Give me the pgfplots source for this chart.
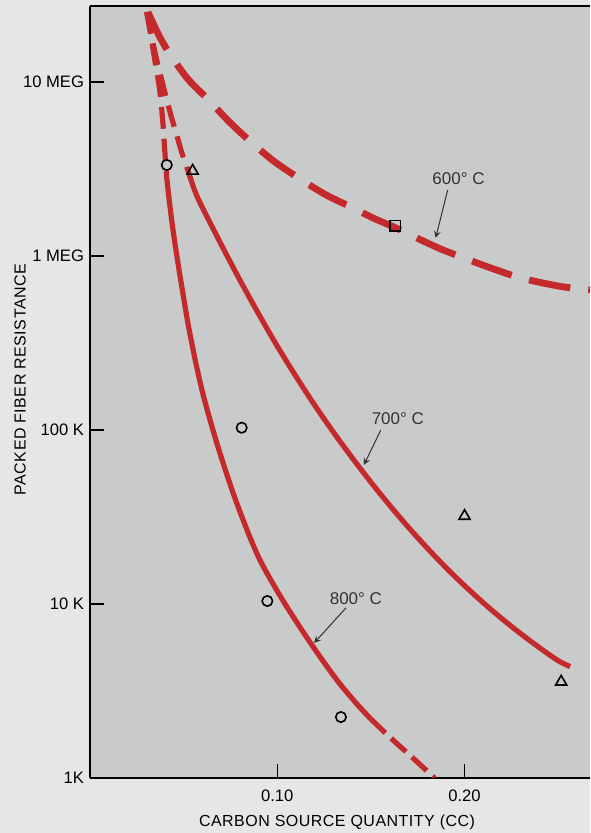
\documentclass[border=0pt]{standalone}
\usepackage{pgfplots}
\pgfplotsset{compat=1.18}
\usepackage{fontspec}
\setmainfont{Liberation Sans}
\usetikzlibrary{backgrounds,calc}

\definecolor{curvered}{HTML}{C42A2C}
\definecolor{plotgray}{HTML}{C9CBCB}
\definecolor{pagegray}{HTML}{E5E7E7}

\begin{document}
\begin{tikzpicture}
\begin{axis}[
    scale only axis,
    width=250pt, height=386pt,
    xmin=0, xmax=0.267,
    ymode=log, ymin=1e3, ymax=2.73e7,
    enlargelimits=false,
    axis x line*=bottom, axis y line*=left,
    axis line style={line width=0.8pt},
    axis background/.style={fill=plotgray},
    tick align=inside,
    major tick length=7pt,
    tick style={line width=0.7pt, black},
    yminorticks=false, xminorticks=false,
    xtick={0.1,0.2}, xticklabels={0.10,0.20},
    ytick={1e3,1e4,1e5,1e6,1e7},
    yticklabels={1K,10 K,100 K,1 MEG,10 MEG},
    tick label style={font=\fontsize{8.3}{9}\selectfont},
    every x tick label/.style={anchor=center, yshift=-9pt},
    every y tick label/.style={anchor=east, xshift=0.5pt},
    xlabel={\addfontfeatures{LetterSpace=3}CARBON SOURCE QUANTITY (CC)},
    ylabel={\addfontfeatures{LetterSpace=3}PACKED FIBER RESISTANCE},
    every axis x label/.style={at={(axis description cs:0.494,0)}, yshift=-22pt, anchor=center,
        font=\fontsize{8}{9}\selectfont},
    every axis y label/.style={at={(axis description cs:0,0.516)}, xshift=-35pt, anchor=center,
        rotate=90, font=\fontsize{8}{9}\selectfont},
]
% 600 C
\addplot[curvered, line width=3.4pt, smooth, dash pattern=on 21pt off 9pt] coordinates {
 (0.0309,2.52e7) (0.0372,1.815e7) (0.0436,1.393e7) (0.0527,1.026e7) (0.0633,7.88e6)
 (0.0739,5.97e6) (0.0846,4.65e6) (0.0979,3.52e6) (0.1128,2.74e6) (0.1261,2.24e6)
 (0.1394,1.91e6) (0.1511,1.653e6) (0.1633,1.449e6) (0.1755,1.253e6) (0.1872,1.097e6)
 (0.1995,9.74e5) (0.2138,8.54e5) (0.2282,7.57e5) (0.2388,7.10e5) (0.2527,6.64e5) (0.267,6.38e5)};
% 700 C dashed top
\addplot[curvered, line width=2.6pt, smooth, dash pattern=on 11pt off 5pt] coordinates {
 (0.0303,2.52e7) (0.0330,1.815e7) (0.0356,1.337e7) (0.0383,1.026e7) (0.0410,7.88e6)
 (0.0436,6.21e6) (0.0463,4.95e6) (0.0489,3.96e6) (0.0516,3.25e6) (0.0543,2.66e6)};
% 700 C solid
\addplot[curvered, line width=2.6pt, smooth] coordinates {
 (0.0543,2.66e6) (0.058,2.10e6) (0.07,1.167e6) (0.08,7.28e5) (0.09,4.65e5) (0.10,3.03e5)
 (0.11,2.03e5) (0.12,1.387e5) (0.13,9.70e4) (0.14,6.92e4) (0.15,5.01e4) (0.16,3.69e4)
 (0.17,2.76e4) (0.18,2.10e4) (0.19,1.622e4) (0.20,1.274e4) (0.21,1.016e4) (0.22,8.22e3)
 (0.23,6.75e3) (0.24,5.61e3) (0.25,4.72e3) (0.2564,4.37e3)};
% 800 C dashed top
\addplot[curvered, line width=2.6pt, smooth, dash pattern=on 11pt off 5pt] coordinates {
 (0.0303,2.52e7) (0.0324,1.862e7) (0.0346,1.337e7) (0.0372,9.0e6) (0.0388,6.05e6)
 (0.0399,4.06e6) (0.0410,2.81e6)};
% 800 C solid
\addplot[curvered, line width=2.6pt, smooth] coordinates {
 (0.0410,2.81e6) (0.0426,1.963e6) (0.0447,1.321e6) (0.0473,8.65e5) (0.0500,5.75e5)
 (0.0527,3.89e5) (0.0569,2.32e5) (0.0612,1.48e5) (0.0686,7.83e4) (0.0782,3.84e4)
 (0.0899,1.87e4) (0.1032,1.04e4) (0.1181,5.89e3) (0.1314,3.71e3) (0.1420,2.70e3)
 (0.1500,2.18e3)};
% 800 C dashed bottom
\addplot[curvered, line width=2.6pt, smooth, dash pattern=on 10pt off 4pt] coordinates {
 (0.1500,2.18e3) (0.1606,1.698e3) (0.1713,1.337e3) (0.1840,1.0e3)};
% measured points
\addplot[only marks, mark=o, mark size=2.6pt, black, mark options={line width=0.8pt}] coordinates {
 (0.041,3.33e6) (0.081,1.03e5) (0.0947,1.04e4) (0.134,2.24e3)};
\addplot[only marks, mark=triangle, mark size=3.2pt, black, mark options={line width=0.8pt}] coordinates {
 (0.0548,3.08e6) (0.200,3.2e4) (0.2516,3.57e3)};
\addplot[only marks, mark=square, mark size=2.6pt, black, mark options={line width=0.8pt}] coordinates {
 (0.163,1.49e6)};
% labels
\node[font=\fontsize{8.5}{10}\selectfont, text=black!80] at (axis cs:0.1968,2.77e6) {600° C};
\draw[-stealth, line width=0.5pt, black!80] (axis cs:0.191,2.39e6) -- (axis cs:0.1846,1.27e6);
\node[font=\fontsize{8.5}{10}\selectfont, text=black!80] at (axis cs:0.1644,1.16e5) {700° C};
\draw[-stealth, line width=0.5pt, black!80] (axis cs:0.1553,1.0e5) -- (axis cs:0.1463,6.3e4);
\node[font=\fontsize{8.5}{10}\selectfont, text=black!80] at (axis cs:0.142,1.08e4) {800° C};
\draw[-stealth, line width=0.5pt, black!80] (axis cs:0.1367,9.5e3) -- (axis cs:0.1197,5.97e3);
\draw[line width=0.8pt] (rel axis cs:0,1) -- (rel axis cs:1,1);
\coordinate (SW) at (rel axis cs:0,0);
\coordinate (NE) at (rel axis cs:1,1);
\end{axis}
\begin{pgfonlayer}{background}
\fill[pagegray] ($(SW)+(-45pt,-27.5pt)$) rectangle ($(NE)+(0,3pt)$);
\end{pgfonlayer}
\pgfresetboundingbox
\path ($(SW)+(-45pt,-27.5pt)$) rectangle ($(NE)+(0,3pt)$);
\end{tikzpicture}
\end{document}
